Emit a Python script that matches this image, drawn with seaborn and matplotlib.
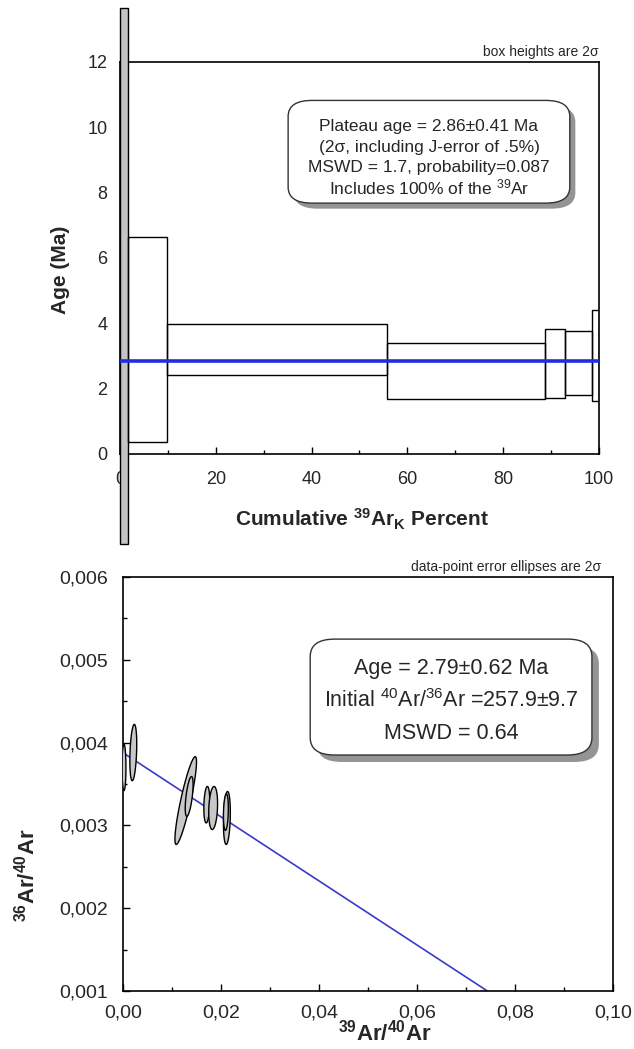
import numpy as np
import pandas as pd
import seaborn as sns
import matplotlib
matplotlib.use("Agg")
import matplotlib.pyplot as plt
from matplotlib.patches import Rectangle, FancyBboxPatch
from matplotlib.ticker import MultipleLocator, FuncFormatter
import matplotlib.patheffects as pe

# --- plateau (age spectrum) steps ---
step_cum_start = [0.0, 1.6, 9.9, 55.8, 88.7, 92.9, 98.5]
step_cum_end = [1.6, 9.9, 55.8, 88.7, 92.9, 98.5, 100.0]
step_age_low = [-2.75, 0.36, 2.41, 1.69, 1.71, 1.82, 1.61]
step_age_high = [13.65, 6.65, 3.97, 3.40, 3.82, 3.76, 4.40]
plateau_age = 2.86

# --- isochron ellipses (centre, half-extents, correlation) ---
ell_x = [0.0002, 0.0021, 0.0128, 0.0135, 0.0171, 0.0184, 0.0212, 0.0210]
ell_y = [0.00370, 0.00388, 0.00330, 0.00335, 0.00325, 0.00321, 0.00309, 0.00316]
ell_sx = [0.0004, 0.0007, 0.0022, 0.0008, 0.0006, 0.0009, 0.0007, 0.0005]
ell_sy = [0.00028, 0.00034, 0.00053, 0.00024, 0.00022, 0.00026, 0.00032, 0.00022]
ell_rho = [0.0, 0.3, 0.88, 0.6, 0.2, 0.2, 0.2, 0.2]
iso_y_intercept = 1 / 257.9
iso_x_intercept = 0.1002

sns.set_style("ticks")
plt.rcParams["font.family"] = ["Liberation Sans", "DejaVu Sans"]
plt.rcParams["mathtext.fontset"] = "custom"
plt.rcParams["mathtext.rm"] = "Liberation Sans"
plt.rcParams["mathtext.bf"] = "Liberation Sans:bold"
plt.rcParams["mathtext.it"] = "Liberation Sans:italic"

fig = plt.figure(figsize=(6.34, 10.49), dpi=100)
fig.patch.set_facecolor("white")

comma = FuncFormatter(lambda v, p: "{:.3f}".format(v).replace(".", ","))
comma2 = FuncFormatter(lambda v, p: "{:.2f}".format(v).replace(".", ","))


def style_axes(ax, size, xpad, ypad):
    for s in ax.spines.values():
        s.set_visible(True)
        s.set_color("black")
        s.set_linewidth(1.2)
    ax.tick_params(which="both", direction="in", color="black", width=1,
                   labelsize=size)
    ax.tick_params(axis="x", pad=xpad)
    ax.tick_params(axis="y", pad=ypad)
    ax.tick_params(which="major", length=5)
    ax.tick_params(which="minor", length=3)


# ---------------- top: age spectrum ----------------
ax1 = fig.add_axes([120 / 634, 1 - 454 / 1049, 479 / 634, 392 / 1049])
ax1.set_xlim(0, 100)
ax1.set_ylim(0, 12)

for i in range(len(step_cum_start)):
    x0, x1 = step_cum_start[i], step_cum_end[i]
    lo, hi = step_age_low[i], step_age_high[i]
    first = i == 0
    ax1.add_patch(Rectangle((x0, lo), x1 - x0, hi - lo,
                            facecolor="#c4c4c4" if first else "none",
                            edgecolor="black", lw=1.0,
                            clip_on=not first, zorder=3))

plat = pd.DataFrame({"x": [0, 100], "y": [plateau_age, plateau_age]})
sns.lineplot(data=plat, x="x", y="y", ax=ax1, color="#1f2fe0", lw=2.6, zorder=4)

ax1.xaxis.set_major_locator(MultipleLocator(20))
ax1.xaxis.set_minor_locator(MultipleLocator(10))
ax1.yaxis.set_major_locator(MultipleLocator(2))
ax1.yaxis.set_minor_locator(MultipleLocator(1))
style_axes(ax1, 13, 12, 9)
ax1.set_xlabel(r"$\mathbf{Cumulative\ ^{39}Ar_K\ Percent}$", fontsize=15)
ax1.xaxis.set_label_coords(0.505, -0.135)
ax1.set_ylabel("Age (Ma)", fontsize=15, fontweight="bold")
ax1.yaxis.set_label_coords(-0.105, 0.47)
ax1.text(1.0, 1.008, "box heights are 2σ", transform=ax1.transAxes,
         ha="right", va="bottom", fontsize=10)

box1 = FancyBboxPatch((0.351, 0.64), 0.588, 0.262, transform=ax1.transAxes,
                      boxstyle="round,pad=0,rounding_size=0.05",
                      facecolor="white", edgecolor="#333333", lw=1.0, zorder=5,
                      mutation_aspect=392 / 479)
box1.set_path_effects([pe.SimplePatchShadow(offset=(4, -4), shadow_rgbFace="#888888", alpha=0.9),
                       pe.Normal()])
ax1.add_patch(box1)
lines1 = ["Plateau age = 2.86±0.41 Ma",
          "(2σ, including J-error of .5%)",
          "MSWD = 1.7, probability=0.087",
          r"Includes 100% of the $^{39}$Ar"]
for k, t in enumerate(lines1):
    ax1.text(0.645, 0.835 - k * 0.052, t, transform=ax1.transAxes,
             ha="center", va="center", fontsize=12.5, zorder=6)

# ---------------- bottom: inverse isochron ----------------
ax2 = fig.add_axes([123 / 634, 1 - 991 / 1049, 490 / 634, 414 / 1049])
ax2.set_xlim(0, 0.10)
ax2.set_ylim(0.001, 0.006)

x_line = np.array([0.0, iso_x_intercept])
iso = pd.DataFrame({"x": x_line, "y": iso_y_intercept * (1 - x_line / iso_x_intercept)})
sns.lineplot(data=iso, x="x", y="y", ax=ax2, color="#3a3acc", lw=1.2, zorder=2)

t = np.linspace(0, 2 * np.pi, 200)
for i in range(len(ell_x)):
    ex = ell_x[i] + ell_sx[i] * np.cos(t)
    ey = ell_y[i] + ell_sy[i] * (ell_rho[i] * np.cos(t) + np.sqrt(1 - ell_rho[i] ** 2) * np.sin(t))
    ax2.fill(ex, ey, facecolor="#c8c8c8", edgecolor="black", lw=1.0, zorder=3)

ax2.xaxis.set_major_locator(MultipleLocator(0.02))
ax2.xaxis.set_minor_locator(MultipleLocator(0.01))
ax2.yaxis.set_major_locator(MultipleLocator(0.001))
ax2.yaxis.set_minor_locator(MultipleLocator(0.0005))
ax2.xaxis.set_major_formatter(comma2)
ax2.yaxis.set_major_formatter(comma)
style_axes(ax2, 14, 10, 11)
ax2.set_xlabel(r"$\mathbf{^{39}Ar/^{40}Ar}$", fontsize=16)
ax2.xaxis.set_label_coords(0.535, -0.07)
ax2.set_ylabel(r"$\mathbf{^{36}Ar/^{40}Ar}$", fontsize=16)
ax2.yaxis.set_label_coords(-0.17, 0.28)
ax2.text(0.975, 1.008, "data-point error ellipses are 2σ", transform=ax2.transAxes,
         ha="right", va="bottom", fontsize=10)

box2 = FancyBboxPatch((0.382, 0.57), 0.575, 0.28, transform=ax2.transAxes,
                      boxstyle="round,pad=0,rounding_size=0.05",
                      facecolor="white", edgecolor="#333333", lw=1.0, zorder=5,
                      mutation_aspect=414 / 490)
box2.set_path_effects([pe.SimplePatchShadow(offset=(5, -5), shadow_rgbFace="#888888", alpha=0.9),
                       pe.Normal()])
ax2.add_patch(box2)
lines2 = ["Age = 2.79±0.62 Ma",
          r"Initial $^{40}$Ar/$^{36}$Ar =257.9±9.7",
          "MSWD = 0.64"]
for k, t2 in enumerate(lines2):
    ax2.text(0.67, 0.78 - k * 0.079, t2, transform=ax2.transAxes,
             ha="center", va="center", fontsize=15.5, zorder=6)

fig.savefig("out.png", dpi=100)
